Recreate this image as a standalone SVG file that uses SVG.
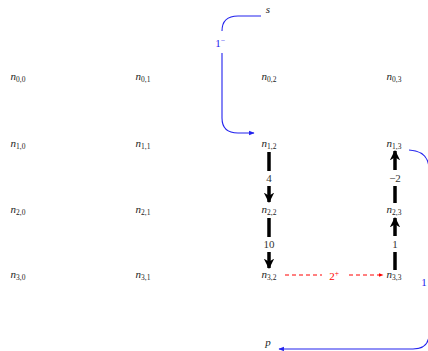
<svg xmlns="http://www.w3.org/2000/svg" width="428" height="351" viewBox="0 0 428 351">
<style>
.n{font-family:"Liberation Serif","DejaVu Serif",serif;font-style:italic;font-size:11px;fill:#222;text-anchor:middle}
.n tspan.s{font-style:normal;font-size:7.5px}
.l{font-family:"Liberation Serif","DejaVu Serif",serif;font-size:11px;text-anchor:middle}
.k{stroke:#000;stroke-width:3.5;fill:none}
.b{stroke:#2222ee;stroke-width:1.1;fill:none}
</style>
<defs>
<marker id="ak" viewBox="0 0 10 10" refX="9" refY="5" markerWidth="3" markerHeight="3" orient="auto" markerUnits="strokeWidth"><path d="M0,0 L10,5 L0,10 L3,5 Z" fill="#000"/></marker>
<marker id="ab" viewBox="0 0 10 10" refX="9" refY="5" markerWidth="5" markerHeight="5" orient="auto" markerUnits="strokeWidth"><path d="M0,1 L10,5 L0,9 Z" fill="#2222ee"/></marker>
<marker id="ar" viewBox="0 0 10 10" refX="9" refY="5" markerWidth="5" markerHeight="5" orient="auto" markerUnits="strokeWidth"><path d="M0,1 L10,5 L0,9 Z" fill="#ff0000"/></marker>
</defs>
<g id="n00"><text class="n" x="18" y="80">n<tspan class="s" dy="2">0,0</tspan></text></g>
<g id="n01"><text class="n" x="143" y="80">n<tspan class="s" dy="2">0,1</tspan></text></g>
<g id="n02"><text class="n" x="269" y="80">n<tspan class="s" dy="2">0,2</tspan></text></g>
<g id="n03"><text class="n" x="394" y="80">n<tspan class="s" dy="2">0,3</tspan></text></g>
<g id="n10"><text class="n" x="18" y="147">n<tspan class="s" dy="2">1,0</tspan></text></g>
<g id="n11"><text class="n" x="143" y="147">n<tspan class="s" dy="2">1,1</tspan></text></g>
<g id="n12"><text class="n" x="269" y="147">n<tspan class="s" dy="2">1,2</tspan></text></g>
<g id="n13"><text class="n" x="394" y="147">n<tspan class="s" dy="2">1,3</tspan></text></g>
<g id="n20"><text class="n" x="18" y="213">n<tspan class="s" dy="2">2,0</tspan></text></g>
<g id="n21"><text class="n" x="143" y="213">n<tspan class="s" dy="2">2,1</tspan></text></g>
<g id="n22"><text class="n" x="269" y="213">n<tspan class="s" dy="2">2,2</tspan></text></g>
<g id="n23"><text class="n" x="394" y="213">n<tspan class="s" dy="2">2,3</tspan></text></g>
<g id="n30"><text class="n" x="18" y="278">n<tspan class="s" dy="2">3,0</tspan></text></g>
<g id="n31"><text class="n" x="143" y="278">n<tspan class="s" dy="2">3,1</tspan></text></g>
<g id="n32"><text class="n" x="269" y="278">n<tspan class="s" dy="2">3,2</tspan></text></g>
<g id="n33"><text class="n" x="394" y="278">n<tspan class="s" dy="2">3,3</tspan></text></g>
<g id="s"><text class="n" x="268" y="13">s</text></g>
<g id="p"><text class="n" x="268" y="346">p</text></g>
<g id="connectors">
<path class="k" d="M269,152 V171"/>
<text class="l" x="269" y="182" fill="#333">4</text>
<path class="k" d="M269,186 V202" marker-end="url(#ak)"/>
<path class="k" d="M269,218 V237"/>
<text class="l" x="269" y="248" fill="#333">10</text>
<path class="k" d="M269,252 V268" marker-end="url(#ak)"/>
<path class="k" d="M395,270 V252"/>
<text class="l" x="395" y="248" fill="#333">1</text>
<path class="k" d="M395,236 V218" marker-end="url(#ak)"/>
<path class="k" d="M395,203 V186"/>
<text class="l" x="395" y="182" fill="#333">−2</text>
<path class="k" d="M395,170 V151" marker-end="url(#ak)"/>
<path d="M285,275 H322 M349,275 H383" stroke="#ff0000" stroke-width="1" stroke-dasharray="4,3" fill="none" marker-end="url(#ar)"/>
<text class="l" x="334" y="280" fill="#ff0000">2<tspan font-size="7.5" dy="-4">+</tspan></text>
<path class="b" d="M261,16 H238 Q222,16 222,31"/>
<text class="l" x="220" y="47" fill="#2222ee">1<tspan font-size="7.5" dy="-4">−</tspan></text>
<path class="b" d="M222,53 V118 Q222,133 238,133 H254" marker-end="url(#ab)"/>
<path class="b" d="M409,150 Q428,151 429,168 V334 Q429,349 413,349 H279" marker-end="url(#ab)"/>
<text class="l" x="424" y="286" fill="#2222ee">1</text>
</g>
</svg>
